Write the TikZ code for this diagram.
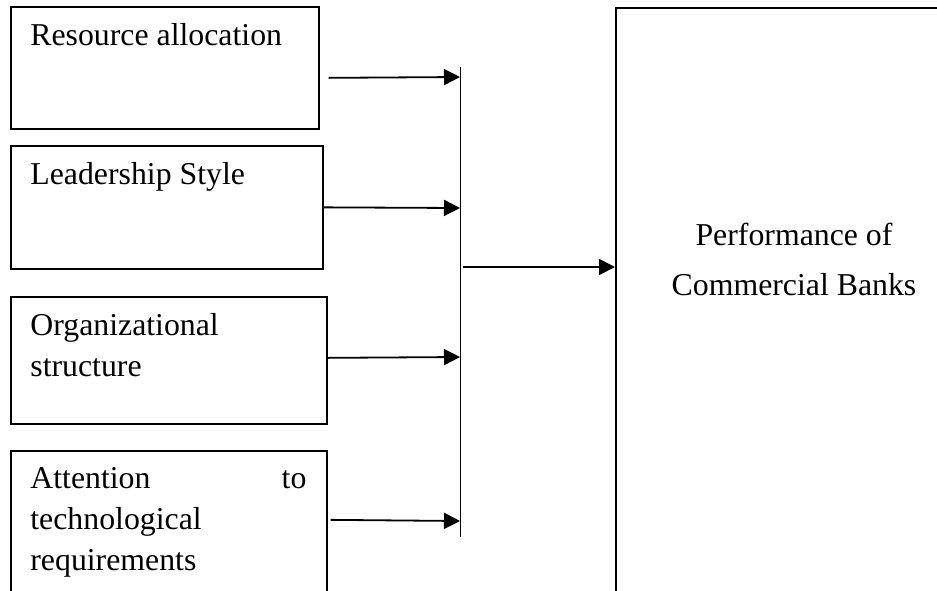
\documentclass[tikz,border=0pt]{standalone}
\usepackage{fontspec}
\setmainfont{Liberation Serif}
\usetikzlibrary{arrows.meta, positioning}
\tikzset{
    x=0.5pt, y=-0.5pt, % one unit is one pixel of the layout, y grows downwards
    factor/.style={draw, line width=0.85pt, anchor=north west, inner sep=0pt},
    boxtext/.style={anchor=north west, inner sep=0pt, align=left, xshift=10pt, yshift=-8.6pt,
        font=\fontsize{15.9}{20.5}\selectfont},
    flow/.style={-{Triangle[length=8pt, width=8pt]}, line width=0.9pt},
    bus/.style={line width=0.5pt},
}

\begin{document}
\begin{tikzpicture}
            \useasboundingbox (0,0) rectangle (937,590);
            % factors on the left
            \node[factor, minimum width=154pt, minimum height=61pt,
                label={[boxtext]north west:Resource allocation}] (ra) at (10,6) {};
            \node[factor, minimum width=156pt, minimum height=61.5pt,
                label={[boxtext]north west:Leadership Style}] (ls) at (10,145) {};
            \node[factor, minimum width=158pt, minimum height=63.5pt,
                label={[boxtext]north west:{Organizational\\structure}}] (os) at (10,296) {};
            \node[factor, minimum width=158pt, minimum height=85pt,
                label={[boxtext, text width=138pt]north west:{Attention\hfill to\\technological\\requirements}}] (atr) at (10,450) {};
            % outcome
            \node[factor, line width=1pt, minimum width=180pt, minimum height=320pt] (perf) at (615,7) {};
            \node[align=center, inner sep=0pt, font=\fontsize{15.9}{25}\selectfont] (perftext) at (794,259)
                {Performance of\\Commercial Banks};
            % collecting line
            \coordinate (bustop) at (460,67);
            \coordinate (busbot) at (460,537);
            \coordinate (b1) at (460,77);
            \coordinate (b2) at (460,208);
            \coordinate (b3) at (460,357);
            \coordinate (b4) at (460,521);
            \coordinate (bout) at (463,267);
            \draw[bus] (bustop) -- (busbot);
            \draw[flow] ([shift={(9,10)}]ra.east) -- (b1);
            \draw[flow] (ls.east) -- (b2);
            \draw[flow] ([shift={(0,-2.5)}]os.east) -- (b3);
            \draw[flow] ([shift={(3,-16)}]atr.east) -- (b4);
            \draw[flow] (bout) -- (bout -| perf.west);
        \end{tikzpicture}
\end{document}
